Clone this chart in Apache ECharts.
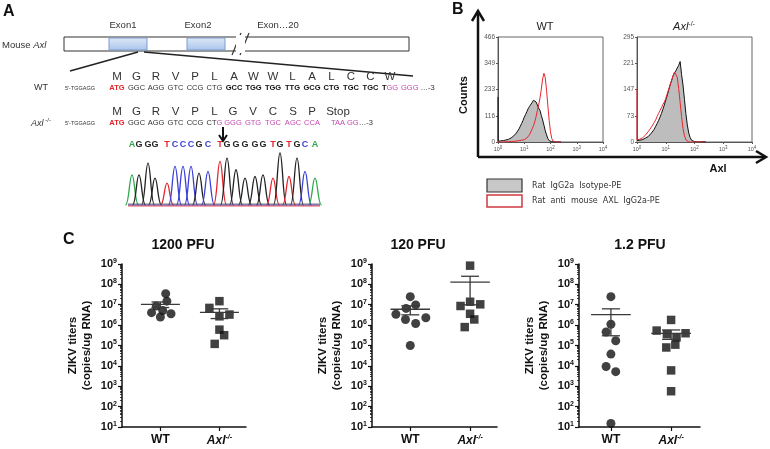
<!DOCTYPE html>
<html><head><meta charset="utf-8">
<script src="https://cdn.jsdelivr.net/npm/echarts@6/dist/echarts.min.js"></script>
<style>html,body{margin:0;padding:0;background:#fff}#c{width:770px;height:449px}</style>
</head><body><div id="c"></div>
<script>
// ================= DATA =================
// Panel C: ZIKV titers (copies/ug RNA)
const groupNames = ['WT', 'Axl-/-'];
const doseTitles = ['1200 PFU', '120 PFU', '1.2 PFU'];
const wt1200 = [3.5e7, 8.7e6, 1.5e7, 4.1e6, 3.6e6, 2.5e6, 5.2e6];
const wt1200X = [1.09, 0.93, 1.11, 0.85, 1.18, 1.0, 1.04];
const axl1200 = [1.5e7, 7e6, 3.3e6, 2.7e6, 6e5, 3.2e5, 1.2e5];
const axl1200X = [2.0, 1.83, 2.17, 2.0, 2.0, 2.08, 1.92];
const wt120 = [2.5e7, 9.8e6, 6.6e6, 3.4e6, 1.9e6, 2.3e6, 1.2e6, 1e5];
const wt120X = [1.0, 1.09, 0.93, 0.76, 0.92, 1.26, 1.09, 1.0];
const axl120 = [8.3e8, 1.4e7, 8.7e6, 1.05e7, 3.6e6, 1.9e6, 8e5];
const axl120X = [2.0, 2.0, 1.84, 2.17, 2.0, 2.07, 1.91];
const wt1p2 = [2.5e7, 1.1e6, 4.6e5, 1.7e5, 3.8e4, 9.3e3, 5.2e3, 15];
const wt1p2X = [1.0, 1.0, 0.92, 1.08, 1.0, 0.92, 1.08, 1.0];
const axl1p2 = [1.8e6, 5.4e5, 4e5, 3.6e5, 2.5e5, 1.1e5, 8e4, 6e3, 570];
const axl1p2X = [2.0, 1.76, 2.24, 1.93, 2.09, 2.07, 1.92, 2.0, 2.0];
// mean and SEM: [WT, Axl-/-]
const mean1200 = [1.05e7, 4.2e6], sem1200 = [3.2e6, 2.1e6];
const mean120 = [6e6, 1.3e8], sem120 = [2.8e6, 1.2e8];
const mean1p2 = [3.3e6, 3.9e5], sem1p2 = [3e6, 1.9e5];

// Panel B: flow histograms (FL2 intensity bins, counts)
const fl2Bins = [1, 1.122, 1.259, 1.413, 1.585, 1.778, 1.995, 2.239, 2.512, 2.818, 3.162, 3.548, 3.981, 4.467, 5.012, 5.623, 6.310, 7.079, 7.943, 8.913,
  10, 11.22, 12.59, 14.13, 15.85, 17.78, 19.95, 22.39, 25.12, 28.18, 31.62, 35.48, 39.81, 44.67, 50.12, 56.23, 63.10, 70.79, 79.43, 89.13,
  100, 112.2, 125.9, 141.3, 158.5, 177.8, 199.5, 223.9, 251.2];
const wtIsotype = [3, 2, 5, 4, 6, 5, 9, 8, 12, 14, 18, 22, 27, 33, 40, 48, 58, 70, 82, 95,
  110, 122, 135, 148, 158, 165, 175, 185, 192, 178, 170, 150, 140, 118, 98, 75, 50, 32, 15, 6,
  2, 1, 0, 0, 0, 0, 0, 0, 0];
const wtIsotypeEdge = 200;
const wtAxl = [0, 0, 0, 0, 0, 1, 1, 1, 2, 2, 2, 3, 3, 4, 4, 5, 6, 7, 8, 9,
  10, 14, 18, 24, 32, 45, 58, 72, 90, 112, 140, 165, 195, 235, 280, 305, 285, 230, 160, 95,
  45, 15, 4, 1, 0, 0, 0, 0, 0];
const koIsotype = [4, 3, 5, 6, 7, 9, 11, 13, 16, 20, 25, 30, 36, 44, 52, 60, 70, 80, 92, 104,
  118, 130, 145, 160, 172, 185, 193, 200, 208, 215, 226, 190, 160, 120, 80, 48, 25, 12, 5, 2,
  1, 1, 0, 1, 0, 0, 1, 0, 0];
const koAxl = [6, 5, 8, 10, 12, 15, 20, 24, 30, 36, 42, 48, 55, 62, 72, 80, 88, 96, 105, 112,
  122, 135, 148, 160, 172, 185, 196, 190, 182, 150, 112, 72, 38, 18, 6, 2, 0, 0, 0, 0,
  0, 0, 0, 0, 0, 0, 0, 0, 0];
const koAxlEdge = 148;
const wtCountTicks = [0, 116, 233, 349, 466];
const koCountTicks = [0, 73, 147, 221, 295];

// Panel A: sequencing chromatogram
const baseCalls = 'AGGGTCCCGCTGGGGGTGTGCA';
const peakScan = [12, 19, 28, 35, 47, 55, 63, 71, 79, 88, 100, 107, 116, 125, 135, 143, 153, 160, 169, 177, 185, 195];
const peakHeight = [90, 90, 125, 80, 65, 115, 115, 115, 95, 100, 130, 140, 105, 80, 85, 90, 80, 155, 85, 140, 100, 80];
const wtAminoAcids = 'MGRVPLAWWLALCCW'.split('');
const wtCodons = ['ATG', 'GGC', 'AGG', 'GTC', 'CCG', 'CTG', 'GCC', 'TGG', 'TGG', 'TTG', 'GCG', 'CTG', 'TGC', 'TGC', 'TGG'];
const koAminoAcids = ['M', 'G', 'R', 'V', 'P', 'L', 'G', 'V', 'C', 'S', 'P', 'Stop'];
const koCodons = ['ATG', 'GGC', 'AGG', 'GTC', 'CCG', 'CTG', 'GGG', 'GTG', 'TGC', 'AGC', 'CCA', 'TAA'];

// ================= CHART =================
const F = "'Liberation Sans', Arial, sans-serif";
const chart = echarts.init(document.getElementById('c'), null, {renderer: 'canvas'});

const baseColor = {A: '#2fa84a', G: '#222222', C: '#3b3fd6', T: '#e5262d'};
const RED = '#e3232b', MAG = '#c24aae';

function T(x, y, text, o) {
  o = o || {};
  return {type: 'text', x: x, y: y, rotation: o.rotation || 0, silent: true, z: 10,
    style: {text: text, fill: o.fill || '#222', font: o.font || ('10px ' + F),
      align: o.align || 'left', textAlign: o.align || 'left',
      verticalAlign: o.va || 'middle', textVerticalAlign: o.va || 'middle', rich: o.rich}};
}
function L(x1, y1, x2, y2, stroke, w) {
  return {type: 'line', silent: true, z: 5, shape: {x1: x1, y1: y1, x2: x2, y2: y2}, style: {stroke: stroke || '#222', lineWidth: w || 1}};
}
function P(points, stroke, w, fill) {
  return {type: fill ? 'polygon' : 'polyline', silent: true, z: 5, shape: {points: points},
    style: {stroke: stroke, lineWidth: w, fill: fill || null}};
}

const g = [];
g.push(T(3, 12, 'A', {font: 'bold 16px ' + F, fill: '#111'}));
g.push(T(452, 10, 'B', {font: 'bold 16px ' + F, fill: '#111'}));
g.push(T(63, 240, 'C', {font: 'bold 16px ' + F, fill: '#111'}));

// ---- Panel A gene diagram ----
g.push(T(123, 25, 'Exon1', {align: 'center', font: '9.5px ' + F, fill: '#333'}));
g.push(T(198, 25, 'Exon2', {align: 'center', font: '9.5px ' + F, fill: '#333'}));
g.push(T(278, 25, 'Exon\u202620', {align: 'center', font: '9.5px ' + F, fill: '#333'}));
g.push(T(2, 45, '{n|Mouse }{i|Axl}', {rich: {n: {fontSize: 9.5, fontFamily: F, fill: '#333'}, i: {fontSize: 9.5, fontFamily: F, fontStyle: 'italic', fill: '#333'}}}));
g.push({type: 'rect', silent: true, z: 4, shape: {x: 64, y: 37, width: 345, height: 14}, style: {fill: '#fff', stroke: '#333', lineWidth: 1}});
const exonFill = new echarts.graphic.LinearGradient(0, 0, 0, 1, [{offset: 0, color: '#dfe9f8'}, {offset: 1, color: '#a8c3ea'}]);
g.push({type: 'rect', silent: true, z: 5, shape: {x: 109, y: 38, width: 38, height: 12}, style: {fill: exonFill, stroke: '#7f9dcc', lineWidth: 1}});
g.push({type: 'rect', silent: true, z: 5, shape: {x: 187, y: 38, width: 38, height: 12}, style: {fill: exonFill, stroke: '#7f9dcc', lineWidth: 1}});
g.push({type: 'rect', silent: true, z: 6, shape: {x: 236, y: 35, width: 9, height: 18}, style: {fill: '#fff'}});
g.push(L(232, 55, 241, 33, '#333', 1.2));
g.push(L(240, 55, 249, 33, '#333', 1.2));
g.push(L(138, 52, 70, 71, '#222', 1.6));
g.push(L(144, 52, 413, 76, '#222', 1.6));

const aaFont = '11.5px ' + F;
const wtAaX = wtAminoAcids.map((_, i) => 117 + 19.5 * i);
const koAaX = [117, 136.5, 156, 175.5, 195, 214.5, 233, 253, 273, 293, 312, 338];
g.push(T(41, 88, 'WT', {align: 'center', font: '9px ' + F, fill: '#333'}));
g.push(T(41, 123, '{i|Axl}{s| -/-}', {align: 'center', rich: {i: {fontSize: 9, fontStyle: 'italic', fontFamily: F, fill: '#333'}, s: {fontSize: 6, fontFamily: F, fill: '#333', padding: [0, 0, 6, 0]}}}));
wtAminoAcids.forEach((a, i) => g.push(T(wtAaX[i], 77, a, {align: 'center', font: aaFont, fill: '#333'})));
koAminoAcids.forEach((a, i) => g.push(T(koAaX[i], 112, a, {align: 'center', font: aaFont, fill: '#333'})));
const dnaRich = {
  n: {fontSize: 7.5, fontFamily: F, fill: '#333'},
  b: {fontSize: 7.5, fontFamily: F, fontWeight: 'bold', fill: '#111'},
  r: {fontSize: 7.5, fontFamily: F, fontWeight: 'bold', fill: RED},
  m: {fontSize: 7.5, fontFamily: F, fill: MAG}
};
g.push(T(65, 88, "5'-TGGAGG", {font: '5.5px ' + F, fill: '#333'}));
g.push(T(65, 123, "5'-TGGAGG", {font: '5.5px ' + F, fill: '#333'}));
wtCodons.forEach((c, i) => {
  let s;
  if (i === 0) s = '{r|' + c + '}';
  else if (i < 6) s = '{n|' + c + '}';
  else if (i < 14) s = '{b|' + c + '}';
  else s = '{b|T}{m|GG}';
  g.push(T(wtAaX[i], 88, s, {align: 'center', rich: dnaRich}));
});
g.push(T(wtAaX[14] + 11, 88, '{m|GGG }{n|\u2026-3}', {align: 'left', rich: dnaRich}));
koCodons.forEach((c, i) => {
  let s;
  if (i === 0) s = '{r|' + c + '}';
  else if (i < 5) s = '{n|' + c + '}';
  else if (i === 5) s = '{n|CT}{m|G}';
  else s = '{m|' + c + '}';
  g.push(T(koAaX[i], 123, s, {align: 'center', rich: dnaRich}));
});
g.push(T(koAaX[11] + 9, 123, '{m|GG}{n|\u2026-3}', {align: 'left', rich: dnaRich}));
g.push(L(223, 127, 223, 140, '#111', 2));
g.push(P([[219, 135], [223, 141], [227, 135]], '#111', 2));
g.push(L(128, 205, 320, 205, '#3b3fd6', 1));
g.push(L(128, 206, 320, 206, '#e5262d', 0.8));
g.push(L(128, 204, 320, 204, '#555', 0.8));

// ---- Panel B decorations ----
g.push(L(478, 157, 478, 12, '#111', 2.5));
g.push(P([[472, 21], [478, 11], [484, 21]], '#111', 2.5));
g.push(L(478, 157, 765, 157, '#111', 2.5));
g.push(P([[756, 151], [766, 157], [756, 163]], '#111', 2.5));
g.push(T(464, 95, 'Counts', {align: 'center', font: 'bold 11px ' + F, fill: '#111', rotation: Math.PI / 2}));
g.push(T(718, 169, 'Axl', {align: 'center', font: 'bold 11px ' + F, fill: '#111'}));
g.push(T(545, 27, 'WT', {align: 'center', font: '11px ' + F, fill: '#222'}));
g.push(T(684, 27, '{i|Axl}{s|-/-}', {align: 'center', rich: {i: {fontSize: 11, fontStyle: 'italic', fontFamily: F, fill: '#222'}, s: {fontSize: 7, fontFamily: F, fill: '#222', padding: [0, 0, 6, 0]}}}));
g.push({type: 'rect', silent: true, z: 5, shape: {x: 487, y: 179, width: 35, height: 13}, style: {fill: '#c8c8c8', stroke: '#333', lineWidth: 1.2}});
g.push({type: 'rect', silent: true, z: 5, shape: {x: 487, y: 195, width: 35, height: 12}, style: {fill: '#fff', stroke: '#cf3a40', lineWidth: 1.5}});
g.push(T(532, 186, 'Rat  IgG2a  Isotype-PE', {font: "8px 'DejaVu Sans', sans-serif", fill: '#333'}));
g.push(T(532, 201, 'Rat  anti  mouse  AXL  IgG2a-PE', {font: "8px 'DejaVu Sans', sans-serif", fill: '#333'}));

// ---- Panel C layout ----
const cLefts = [122, 372, 579];
const cWidths = [124, 125, 121];
const cMin = [0.35, 0.36, 0.47];
const cMax = [2.45, 2.45, 2.48];
const cTitleX = [183, 418, 640];
doseTitles.forEach((t, i) => g.push(T(cTitleX[i], 245, t, {align: 'center', font: 'bold 14px ' + F, fill: '#111'})));

// ================= AXES =================
const grids = [], xAxes = [], yAxes = [], series = [];
grids.push({left: 120, top: 153, width: 200, height: 52});
xAxes.push({gridIndex: 0, type: 'value', min: 0, max: 200, show: false});
yAxes.push({gridIndex: 0, type: 'value', min: 0, max: 155, show: false});

const supRich = (fs, sfs, col) => ({b: {fontSize: fs, fontFamily: F, color: col}, s: {fontSize: sfs, fontFamily: F, color: col, padding: [0, 0, 4, 0]}});
function flowAxes(gi, left, width, maxC, ticks) {
  grids.push({left: left, top: 37, width: width, height: 105, show: true, borderColor: '#666', borderWidth: 1, backgroundColor: 'transparent'});
  xAxes.push({gridIndex: gi, type: 'log', logBase: 10, min: 1, max: 10000,
    axisLine: {lineStyle: {color: '#555', width: 1}}, splitLine: {show: false},
    axisTick: {length: 2, lineStyle: {color: '#555'}},
    minorTick: {show: false},
    axisLabel: {margin: 3, formatter: v => '{b|10}{s|' + Math.round(Math.log10(v)) + '}', rich: supRich(5.5, 4.5, '#555')}});
  yAxes.push({gridIndex: gi, type: 'value', min: 0, max: maxC, splitLine: {show: false},
    axisLine: {show: true, lineStyle: {color: '#555', width: 1}},
    axisTick: {show: true, length: 2, customValues: ticks, lineStyle: {color: '#555'}},
    axisLabel: {margin: 3, fontSize: 6.5, fontFamily: F, color: '#555', customValues: ticks}});
}
flowAxes(1, 498, 105, 466, wtCountTicks);
flowAxes(2, 637, 115, 295, koCountTicks);

const yRich = {b: {fontSize: 11, fontWeight: 'bold', fontFamily: F, color: '#111'}, s: {fontSize: 7, fontWeight: 'bold', fontFamily: F, color: '#111', padding: [0, 0, 6, 0]}};
const xRich = {w: {fontSize: 12, fontWeight: 'bold', fontFamily: F, color: '#111'}, i: {fontSize: 12, fontWeight: 'bold', fontStyle: 'italic', fontFamily: F, color: '#111'}, s: {fontSize: 7, fontWeight: 'bold', fontStyle: 'italic', fontFamily: F, color: '#111', padding: [0, 0, 7, 0]}};
cLefts.forEach((left, k) => {
  const gi = 3 + k;
  grids.push({left: left, top: 264, width: cWidths[k], height: 163});
  xAxes.push({gridIndex: gi, type: 'value', min: cMin[k], max: cMax[k], splitLine: {show: false},
    axisLine: {lineStyle: {color: '#111', width: 1.5}},
    axisTick: {customValues: [1, 2], length: 4, lineStyle: {color: '#111', width: 1.2}},
    axisLabel: {customValues: [1, 2], margin: 7, formatter: v => v === 1 ? '{w|' + groupNames[0] + '}' : '{i|Axl}{s|-/-}', rich: xRich}});
  yAxes.push({gridIndex: gi, type: 'log', logBase: 10, min: 10, max: 1e9, interval: 1, splitLine: {show: false},
    axisLine: {show: true, lineStyle: {color: '#111', width: 1.5}},
    axisTick: {show: true, length: 4, lineStyle: {color: '#111', width: 1.2}},
    minorTick: {show: true, splitNumber: 9, length: 2, lineStyle: {color: '#111', width: 0.8}},
    axisLabel: {margin: 5, formatter: v => '{b|10}{s|' + Math.round(Math.log10(v)) + '}', rich: yRich},
    name: 'ZIKV titers\n(copies/ug RNA)', nameLocation: 'middle', nameGap: 28, nameRotate: 90,
    nameTextStyle: {fontSize: 11.5, fontWeight: 'bold', fontFamily: F, color: '#111', lineHeight: 14}});
});

// ================= SERIES =================
series.push({type: 'custom', xAxisIndex: 0, yAxisIndex: 0, clip: false, silent: true,
  data: baseCalls.split('').map((b, i) => [peakScan[i], peakHeight[i], i]),
  renderItem: function (params, api) {
    const x = api.value(0), h = api.value(1), b = baseCalls[api.value(2)];
    const w = 6.5;
    const p0 = api.coord([x - w, 0]), pt = api.coord([x, h]), p1 = api.coord([x + w, 0]);
    const d = 'M' + p0[0] + ' ' + p0[1] +
      ' C' + (p0[0] + (pt[0] - p0[0]) * 0.55) + ' ' + p0[1] + ' ' + (p0[0] + (pt[0] - p0[0]) * 0.6) + ' ' + pt[1] + ' ' + pt[0] + ' ' + pt[1] +
      ' C' + (pt[0] + (p1[0] - pt[0]) * 0.4) + ' ' + pt[1] + ' ' + (pt[0] + (p1[0] - pt[0]) * 0.45) + ' ' + p1[1] + ' ' + p1[0] + ' ' + p1[1];
    return {type: 'group', children: [
      {type: 'path', shape: {pathData: d}, style: {stroke: baseColor[b], lineWidth: 1.3, fill: null}},
      {type: 'text', style: {text: b, x: pt[0], y: 145, fill: baseColor[b], font: 'bold 9px ' + F, align: 'center', verticalAlign: 'middle'}}
    ]};
  }});

const zipEdge = (counts, edge) => (edge != null ? [[fl2Bins[0], edge]] : []).concat(counts.map((c, i) => [fl2Bins[i], c]));
series.push({type: 'line', xAxisIndex: 1, yAxisIndex: 1, symbol: 'none', silent: true, z: 2,
  data: zipEdge(wtIsotype, wtIsotypeEdge), lineStyle: {color: '#111', width: 1}, areaStyle: {color: '#bdbdbd', opacity: 1}});
series.push({type: 'line', xAxisIndex: 1, yAxisIndex: 1, symbol: 'none', silent: true, z: 3,
  data: zipEdge(wtAxl), lineStyle: {color: '#e8262e', width: 1}});
series.push({type: 'line', xAxisIndex: 2, yAxisIndex: 2, symbol: 'none', silent: true, z: 2,
  data: zipEdge(koIsotype), lineStyle: {color: '#111', width: 1}, areaStyle: {color: '#bdbdbd', opacity: 1}});
series.push({type: 'line', xAxisIndex: 2, yAxisIndex: 2, symbol: 'none', silent: true, z: 3,
  data: zipEdge(koAxl, koAxlEdge), lineStyle: {color: '#e8262e', width: 1}});

function meanSem(params, api) {
  const x = api.value(0), m = api.value(1), s = api.value(2);
  const top = m + s, lo = Math.max(m - s, 10);
  const st = {stroke: '#3a3a3a', lineWidth: 1.3};
  const ln = (a, b) => ({type: 'line', shape: {x1: a[0], y1: a[1], x2: b[0], y2: b[1]}, style: st});
  return {type: 'group', children: [
    ln(api.coord([x - 0.33, m]), api.coord([x + 0.33, m])),
    ln(api.coord([x, top]), api.coord([x, lo])),
    ln(api.coord([x - 0.15, top]), api.coord([x + 0.15, top])),
    ln(api.coord([x - 0.15, lo]), api.coord([x + 0.15, lo]))
  ]};
}
const panelC = [
  [wt1200, wt1200X, axl1200, axl1200X, mean1200, sem1200],
  [wt120, wt120X, axl120, axl120X, mean120, sem120],
  [wt1p2, wt1p2X, axl1p2, axl1p2X, mean1p2, sem1p2]
];
panelC.forEach((p, k) => {
  const ai = 3 + k;
  series.push({type: 'scatter', xAxisIndex: ai, yAxisIndex: ai, symbol: 'circle', symbolSize: 9, silent: true, z: 3,
    itemStyle: {color: '#111'}, data: p[0].map((v, i) => [p[1][i], v])});
  series.push({type: 'scatter', xAxisIndex: ai, yAxisIndex: ai, symbol: 'rect', symbolSize: 8.5, silent: true, z: 3,
    itemStyle: {color: '#111'}, data: p[2].map((v, i) => [p[3][i], v])});
  series.push({type: 'custom', xAxisIndex: ai, yAxisIndex: ai, silent: true, clip: false, z: 4,
    data: [[1, p[4][0], p[5][0]], [2, p[4][1], p[5][1]]], renderItem: meanSem});
});

chart.setOption({
  animation: false,
  backgroundColor: '#fff',
  grid: grids, xAxis: xAxes, yAxis: yAxes, series: series,
  graphic: {elements: g}
});
</script></body></html>
